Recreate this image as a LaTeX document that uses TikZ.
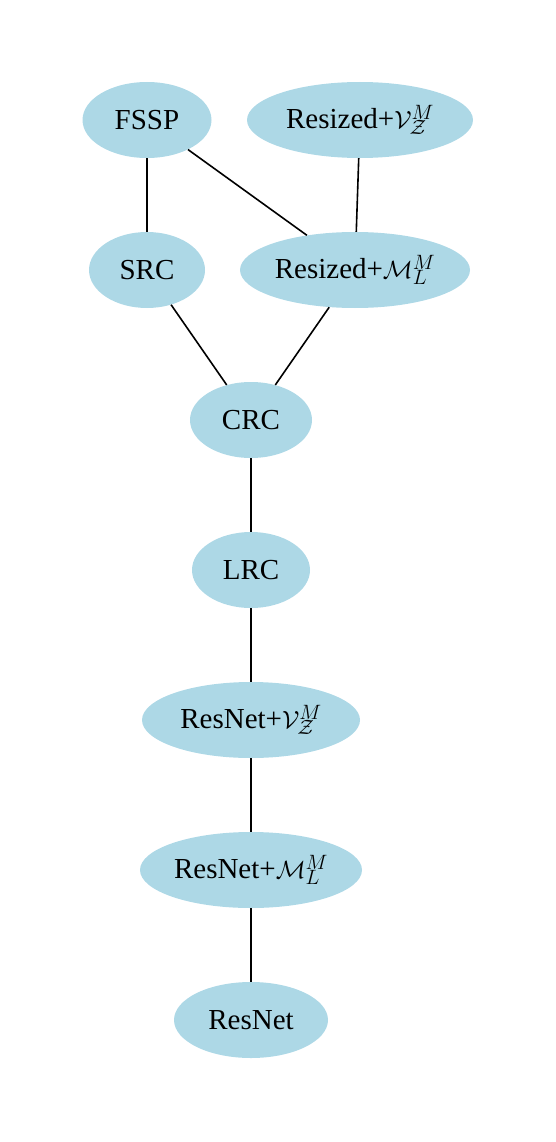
\documentclass[tikz,border=0pt]{standalone}
\usepackage{fontspec}
\setmainfont{Liberation Serif}
\usetikzlibrary{shapes.geometric}
\definecolor{lblue}{HTML}{ADD8E6}
\begin{document}
\begin{tikzpicture}[x=1pt,y=-1pt,
  nd/.style={ellipse,fill=lblue,draw=none,inner sep=0pt,minimum height=76pt,font=\fontsize{29}{34}\selectfont},
  edge/.style={line width=1.6pt,black}]
\useasboundingbox (0,0) rectangle (555,1142);
\node[nd,minimum width=129pt] (fssp) at (147,120) {FSSP};
\node[nd,minimum width=226pt] (rv) at (360,120) {Resized+$\mathcal{V}_{\mathcal{Z}}^{M}$};
\node[nd,minimum width=116pt] (src) at (147,270) {SRC};
\node[nd,minimum width=230pt] (rm) at (355,270) {Resized+$\mathcal{M}_{L}^{M}$};
\node[nd,minimum width=122pt] (crc) at (251,420) {CRC};
\node[nd,minimum width=118pt] (lrc) at (251,570) {LRC};
\node[nd,minimum width=218pt] (nv) at (251,720) {ResNet+$\mathcal{V}_{\mathcal{Z}}^{M}$};
\node[nd,minimum width=222pt] (nm) at (251,870) {ResNet+$\mathcal{M}_{L}^{M}$};
\node[nd,minimum width=154pt] (rn) at (251,1020) {ResNet};
\draw[edge] (fssp) -- (src);
\draw[edge] (fssp) -- (rm);
\draw[edge] (rv) -- (rm);
\draw[edge] (src) -- (crc);
\draw[edge] (rm) -- (crc);
\draw[edge] (crc) -- (lrc);
\draw[edge] (lrc) -- (nv);
\draw[edge] (nv) -- (nm);
\draw[edge] (nm) -- (rn);
\end{tikzpicture}
\end{document}
